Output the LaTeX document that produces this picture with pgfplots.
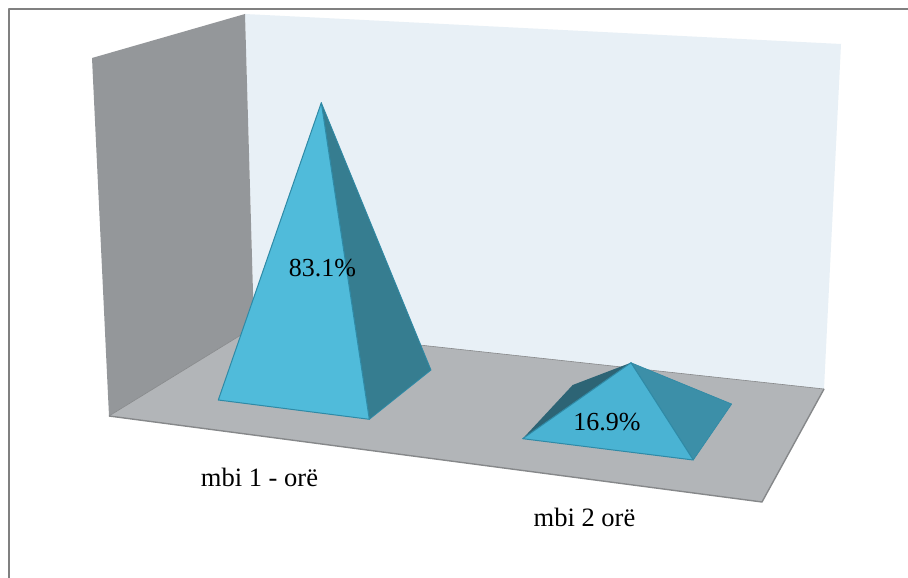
\documentclass[border=0pt]{standalone}
\usepackage{pgfplots}
\pgfplotsset{compat=1.18}
\usepackage{fontspec}
\setmainfont{Liberation Serif}
\definecolor{frameC}{HTML}{808080}
\definecolor{wallL}{HTML}{94979A}
\definecolor{wallB}{HTML}{E8F0F6}
\definecolor{floorC}{HTML}{B2B5B8}
\definecolor{edgeC}{HTML}{86888A}
\definecolor{frontA}{HTML}{50BBDA}
\definecolor{sideA}{HTML}{367D90}
\definecolor{frontB}{HTML}{4AB3D3}
\definecolor{sideB}{HTML}{3C8FA8}
\definecolor{backB}{HTML}{2D6475}
\definecolor{rim}{HTML}{2F8AA6}
\begin{document}
\begin{tikzpicture}
\begin{axis}[
  scale only axis, width=908pt, height=578pt,
  xmin=0, xmax=908, ymin=0, ymax=578, y dir=reverse,
  hide axis, clip=true,
  every axis plot/.append style={line join=round},
]
% page background and chart frame
\addplot[fill=white, draw=none] coordinates {(0,0) (908,0) (908,578) (0,578)} -- cycle;
\addplot[draw=frameC, line width=1.6pt] coordinates {(9,578) (9,9) (908,9)};

% walls and floor
\addplot[fill=wallB, draw=none] coordinates {(245,14) (841,44) (824,389) (254,327)} -- cycle;
\addplot[fill=wallL, draw=none] coordinates {(92,58) (245,14) (254,327) (109,416)} -- cycle;
\addplot[fill=floorC, draw=none] coordinates {(109,416) (254,327) (824,389) (762,502)} -- cycle;
\addplot[draw=edgeC, line width=0.6pt] coordinates {(109,416) (254,327) (824,389)};
\addplot[draw=edgeC, line width=1.4pt] coordinates {(109,416) (762,502) (824,389)};

% pyramid for 83.1%
\addplot[fill=sideA, draw=rim, line width=0.8pt] coordinates {(321.3,102.7) (369.3,419.3) (431,370)} -- cycle;
\addplot[fill=frontA, draw=rim, line width=1pt] coordinates {(321.3,102.7) (218.3,400) (369.3,419.3)} -- cycle;

% pyramid for 16.9%
\addplot[fill=backB, draw=none] coordinates {(631,362.7) (522.7,438.7) (572.7,385)} -- cycle;
\addplot[fill=sideB, draw=rim, line width=0.6pt] coordinates {(631,362.7) (693.3,460) (731.7,404)} -- cycle;
\addplot[fill=frontB, draw=rim, line width=1pt] coordinates {(631,362.7) (522.7,438.7) (693.3,460)} -- cycle;

% value and category labels
\node[font=\fontsize{26}{26}\selectfont, inner sep=0pt] at (axis cs:322.5,268) {83.1\%};
\node[font=\fontsize{26}{26}\selectfont, inner sep=0pt] at (axis cs:607,422) {16.9\%};
\node[font=\fontsize{26.5}{26.5}\selectfont, inner sep=0pt] at (axis cs:259.5,477) {mbi 1 - orë};
\node[font=\fontsize{26.5}{26.5}\selectfont, inner sep=0pt] at (axis cs:584.5,517) {mbi 2 orë};
\end{axis}
\end{tikzpicture}
\end{document}
